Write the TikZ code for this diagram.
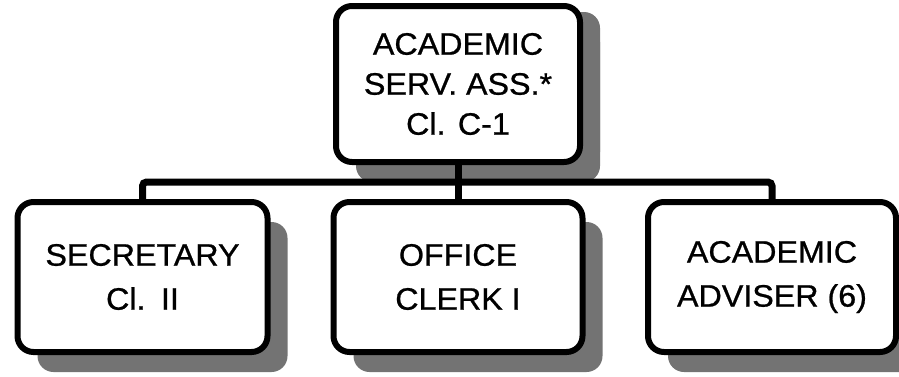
\documentclass[tikz,border=0pt]{standalone}
\usepackage{fontspec}
\setmainfont{Liberation Sans}[FakeStretch=1.04, FakeBold=0.8]
\usetikzlibrary{shadows}
\begin{document}
\begin{tikzpicture}[x=1pt,y=1pt,
  box/.style={draw=black, line width=6pt, rounded corners=16pt, fill=white,
    align=center, inner sep=0pt, font=\fontsize{31}{44}\selectfont,
    drop shadow={shadow xshift=20pt, shadow yshift=-20pt, fill=black!55, opacity=1}},
  topbox/.style={box, font=\fontsize{31}{40}\selectfont,
    drop shadow={shadow xshift=20pt, shadow yshift=-6pt, fill=black!55, opacity=1}},
  conn/.style={draw=black, line width=7pt, rounded corners=4pt}]
\useasboundingbox (0,0) rectangle (899,-376);
\node[topbox, minimum width=244pt, minimum height=156pt] (top) at (458,-84)
  {ACADEMIC\\SERV. ASS.*\\Cl.\hspace{0.4em}C-1};
\node[box, minimum width=250pt, minimum height=150pt] (b1) at (142.5,-277)
  {SECRETARY\\Cl.\hspace{0.5em}II};
\node[box, minimum width=249pt, minimum height=150pt] (b2) at (458,-277)
  {OFFICE\\CLERK I};
\node[box, minimum width=248pt, minimum height=150pt] (b3) at (772,-277)
  {ACADEMIC\\ADVISER (6)};
\coordinate (bus) at (458,-182);
\draw[conn] (top.south) -- (bus);
\draw[conn] (b1.north) -- (b1.north |- bus) -- (b3.north |- bus) -- (b3.north);
\draw[conn] (bus) -- (b2.north);
\end{tikzpicture}
\end{document}
